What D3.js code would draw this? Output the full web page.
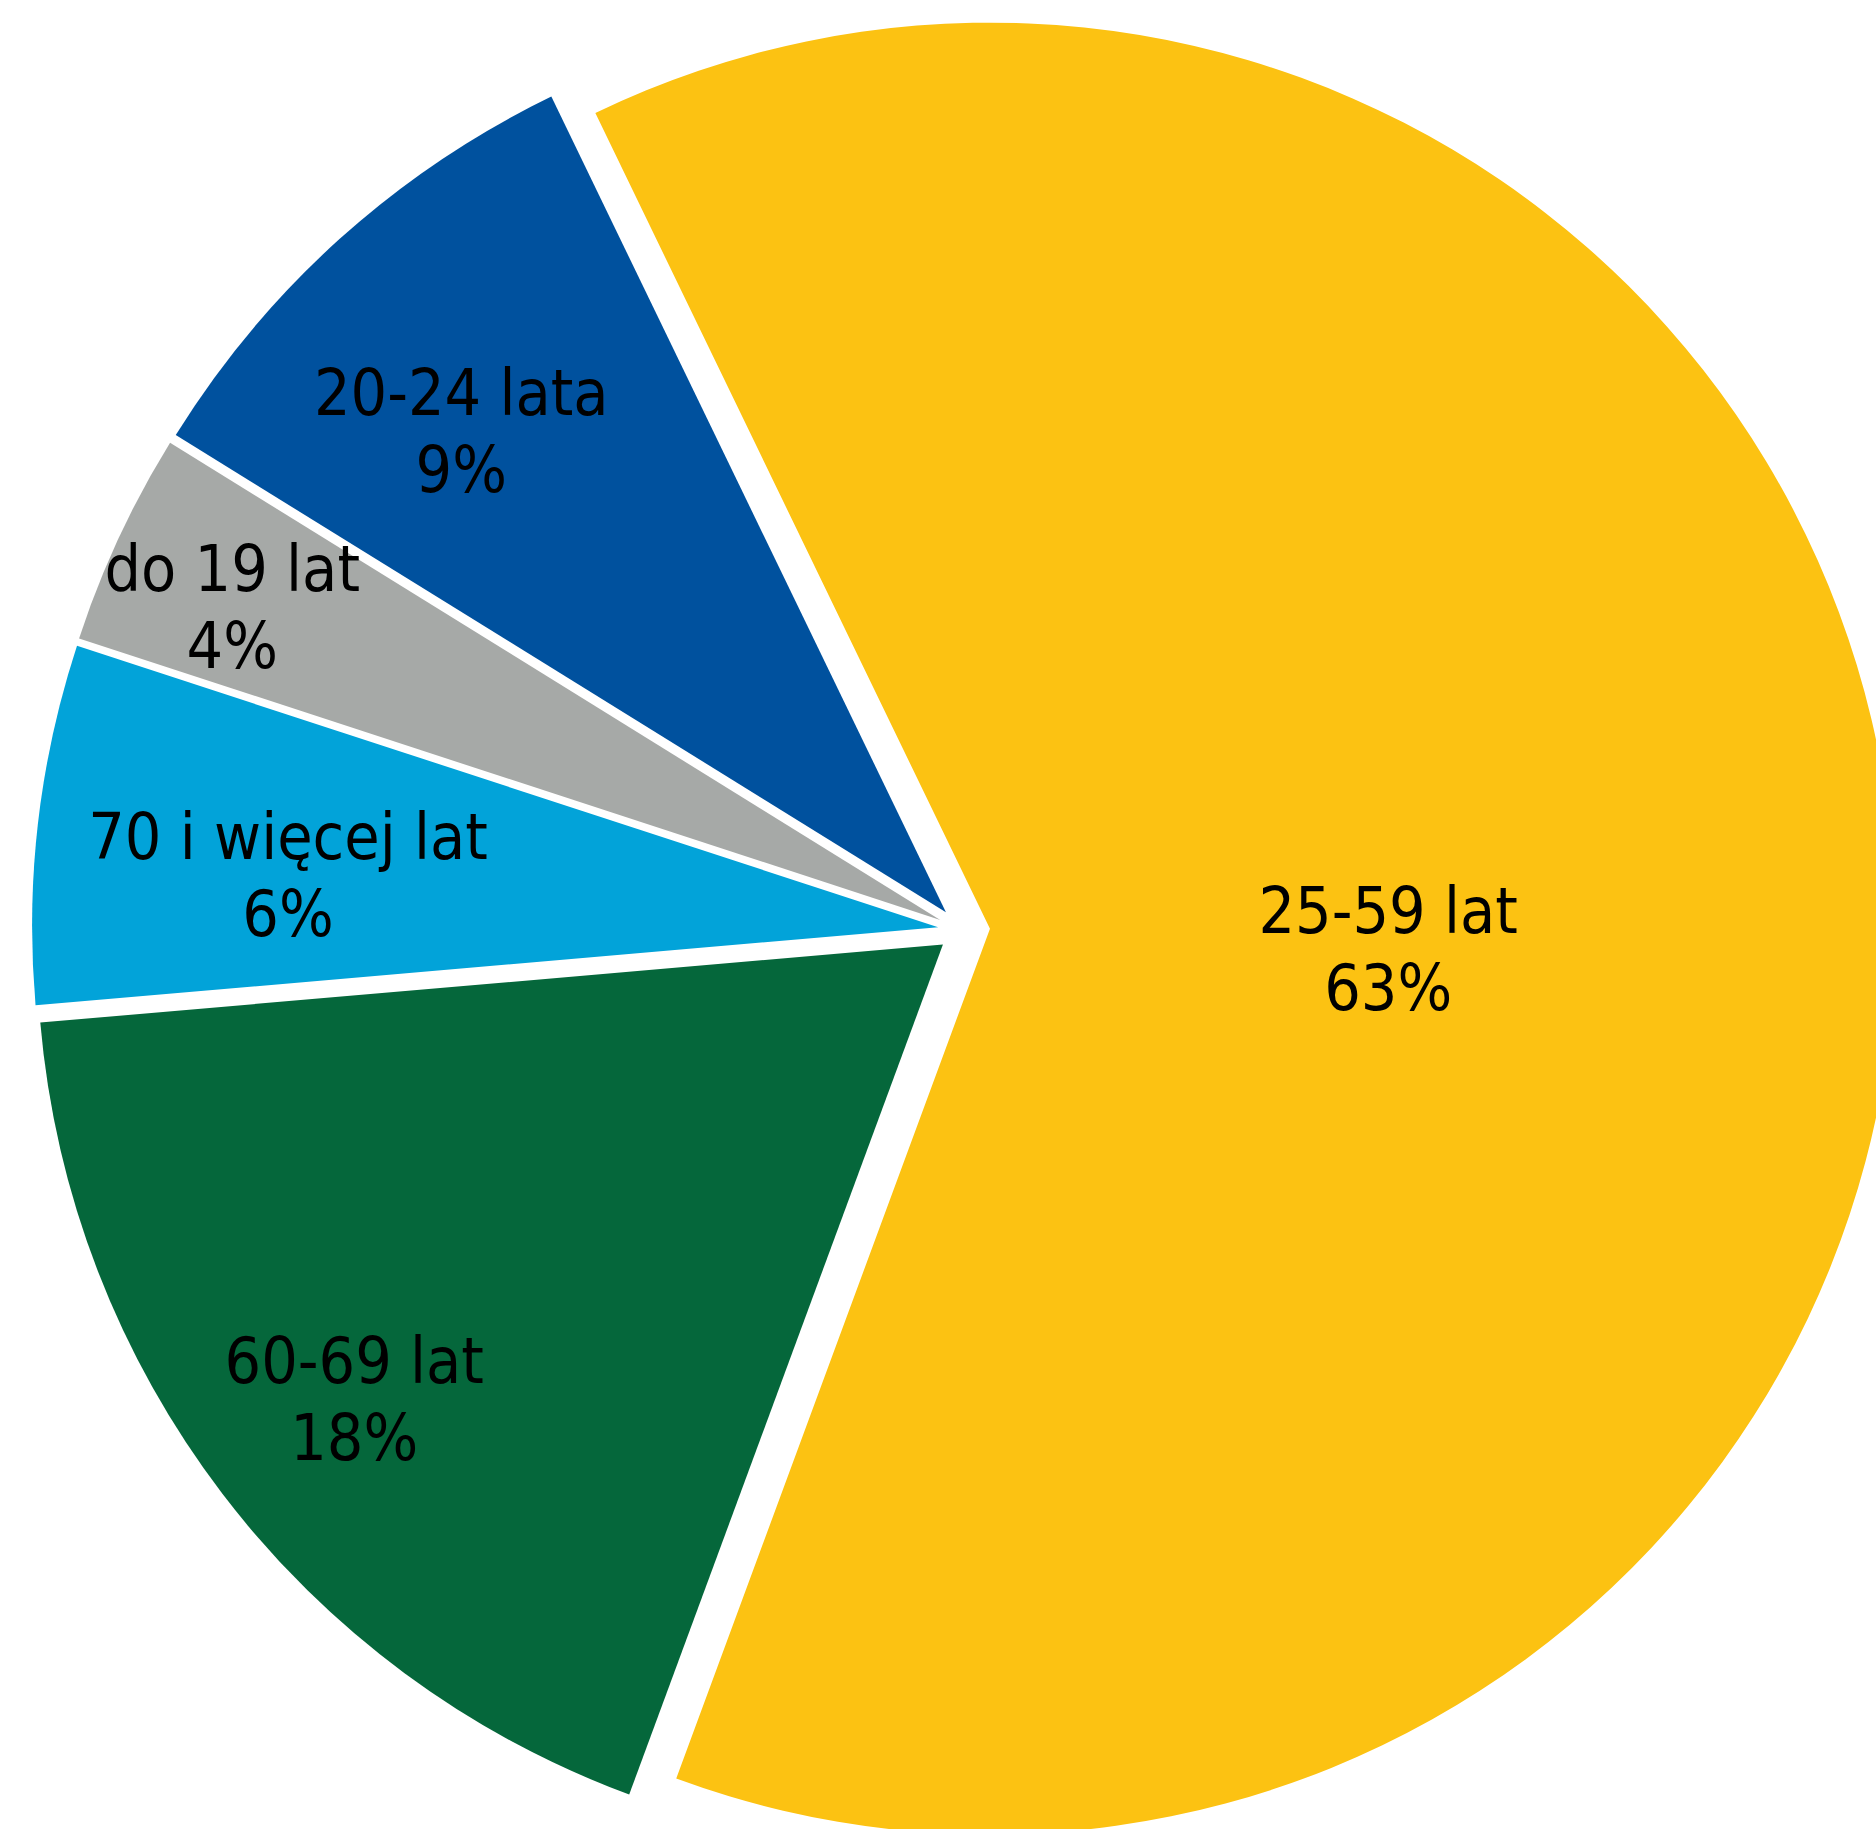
<!DOCTYPE html>
<meta charset="UTF-8">
<style>

    body {
        margin: 0;
        background: #fff;
    }

    .label {
        font-family: "DejaVu Sans Condensed", "DejaVu Sans", sans-serif;
        font-stretch: condensed;
        font-size: 64px;
        fill: #000;
        text-anchor: middle;
    }

</style>

<body>

    <div id="chart"></div>

    <!-- load the d3.js library -->
    <script src="https://d3js.org/d3.v7.min.js"></script>

    <script>

        // data, in the order the slices run clockwise
        var categories = ["do 19 lat", "20-24 lata", "25-59 lat", "60-69 lat", "70 i więcej lat"];
        var shares = [3.8, 9.0, 62.8, 18.0, 6.4];
        var colors = ["#a6a9a7", "#00519e", "#fcc212", "#05673b", "#02a3d9"];

        // layout
        var width = 1876, height = 1829;
        var cx = 962, cy = 930, radius = 906;
        var explode = [24, 24, 28, 24, 24];
        // label placement: distance as share of radius, turn (degrees) from the slice middle
        var labelRadius = [0.855, 0.755, 0.44, 0.82, 0.72];
        var labelTurn = [-1.0, -3.1, 5.5, -0.25, -1.9];
        var lineGap = 77;

        var fmt = d3.format(".0%");
        var rad = Math.PI / 180;

        var pie = d3.pie()
            .sort(null)
            .value(function(d) { return d; })
            .startAngle(-71.9 * rad)
            .endAngle(288.1 * rad);

        var arc = d3.arc()
            .innerRadius(0)
            .outerRadius(radius);

        var svg = d3.select("#chart").append("svg")
            .attr("width", width)
            .attr("height", height)
            .append("g")
            .attr("transform", "translate(" + cx + "," + cy + ")");

        var arcs = pie(shares);

        function mid(d) { return (d.startAngle + d.endAngle) / 2; }

        // the slices, each pushed out along its middle angle
        var slice = svg.selectAll(".slice")
            .data(arcs)
            .enter().append("g")
            .attr("class", "slice")
            .attr("transform", function(d, i) {
                var a = mid(d);
                return "translate(" + (Math.sin(a) * explode[i]) + "," + (-Math.cos(a) * explode[i]) + ")";
            });

        slice.append("path")
            .attr("d", arc)
            .attr("fill", function(d, i) { return colors[i]; });

        // labels: name and percentage
        var label = slice.append("text")
            .attr("class", "label")
            .attr("transform", function(d, i) {
                var a = mid(d) + labelTurn[i] * rad, r = radius * labelRadius[i];
                return "translate(" + (Math.sin(a) * r) + "," + (-Math.cos(a) * r) + ")";
            });

        label.append("tspan")
            .attr("x", 0)
            .attr("y", -15)
            .text(function(d, i) { return categories[i]; });

        label.append("tspan")
            .attr("x", 0)
            .attr("y", -15 + lineGap)
            .text(function(d) { return fmt(d.value / 100); });

    </script>

</body>
